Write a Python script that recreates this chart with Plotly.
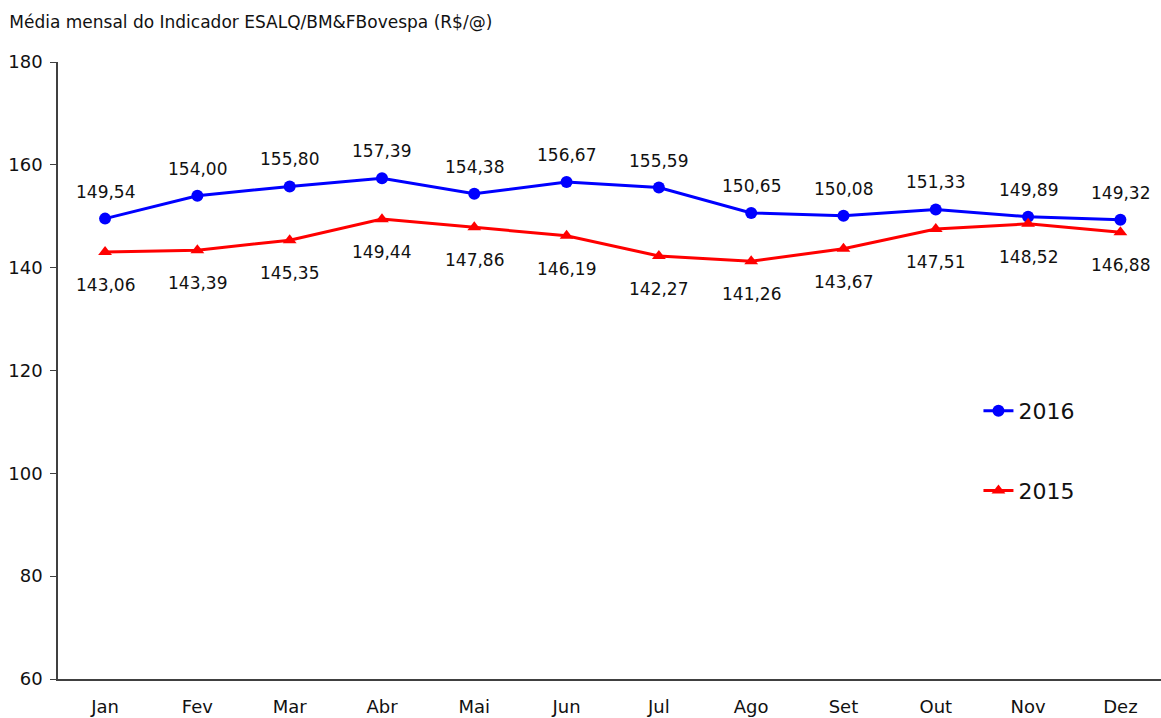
import plotly.graph_objects as go

months = ["Jan", "Fev", "Mar", "Abr", "Mai", "Jun", "Jul", "Ago", "Set", "Out", "Nov", "Dez"]
v2016 = [149.54, 154.00, 155.80, 157.39, 154.38, 156.67, 155.59, 150.65, 150.08, 151.33, 149.89, 149.32]
v2015 = [143.06, 143.39, 145.35, 149.44, 147.86, 146.19, 142.27, 141.26, 143.67, 147.51, 148.52, 146.88]

def fmt(v):
    return f"{v:.2f}".replace(".", ",")

FONT = "DejaVu Sans, sans-serif"
TXT = "#111111"

fig = go.Figure()
fig.add_trace(go.Scatter(
    x=list(range(12)), y=v2016, name="2016", mode="lines+markers",
    line=dict(color="#0000ff", width=3),
    marker=dict(symbol="circle", size=12, color="#0000ff"),
    legendgroup="a",
))
fig.add_trace(go.Scatter(
    x=list(range(12)), y=v2015, name="2015", mode="lines+markers",
    line=dict(color="#ff0000", width=3),
    marker=dict(symbol="triangle-up", size=12, color="#ff0000"),
    legendgroup="b",
))

for i, v in enumerate(v2016):
    fig.add_annotation(x=i, y=v, text=fmt(v), showarrow=False, yshift=27,
                       yanchor="middle", font=dict(size=17, family=FONT, color=TXT))
for i, v in enumerate(v2015):
    fig.add_annotation(x=i, y=v, text=fmt(v), showarrow=False, yshift=-33,
                       yanchor="middle", font=dict(size=17, family=FONT, color=TXT))

fig.update_layout(
    width=1161, height=718,
    margin=dict(l=58, r=0, t=62, b=39),
    paper_bgcolor="white", plot_bgcolor="white",
    font=dict(family=FONT, color=TXT),
    title=dict(text="Média mensal do Indicador ESALQ/BM&FBovespa (R$/@)",
               x=0.008, xanchor="left", y=0.969, yanchor="middle",
               font=dict(size=17, family=FONT, color=TXT)),
    showlegend=True,
    legend=dict(x=0.8345, xanchor="left", y=0.3695, yanchor="middle",
                font=dict(size=22, family=FONT, color=TXT),
                tracegroupgap=48, bgcolor="rgba(0,0,0,0)", traceorder="grouped"),
    xaxis=dict(
        tickmode="array", tickvals=list(range(12)), ticktext=months,
        range=[-0.51, 11.44], showgrid=False, zeroline=False,
        showline=True, linecolor="#404040", linewidth=1.5,
        ticks="", ticklabelstandoff=11,
        tickfont=dict(size=18, family=FONT, color=TXT),
    ),
    yaxis=dict(
        range=[60, 180], tickmode="array", tickvals=[60, 80, 100, 120, 140, 160, 180],
        showgrid=False, zeroline=False, showline=True, linecolor="#404040", linewidth=1.5,
        ticks="outside", ticklen=6, tickcolor="#404040", ticklabelstandoff=4,
        tickfont=dict(size=18, family=FONT, color=TXT),
    ),
)

fig.write_html("out.html", config={"displayModeBar": False},
               post_script="document.body.style.margin='0';document.body.style.overflow='hidden';")
